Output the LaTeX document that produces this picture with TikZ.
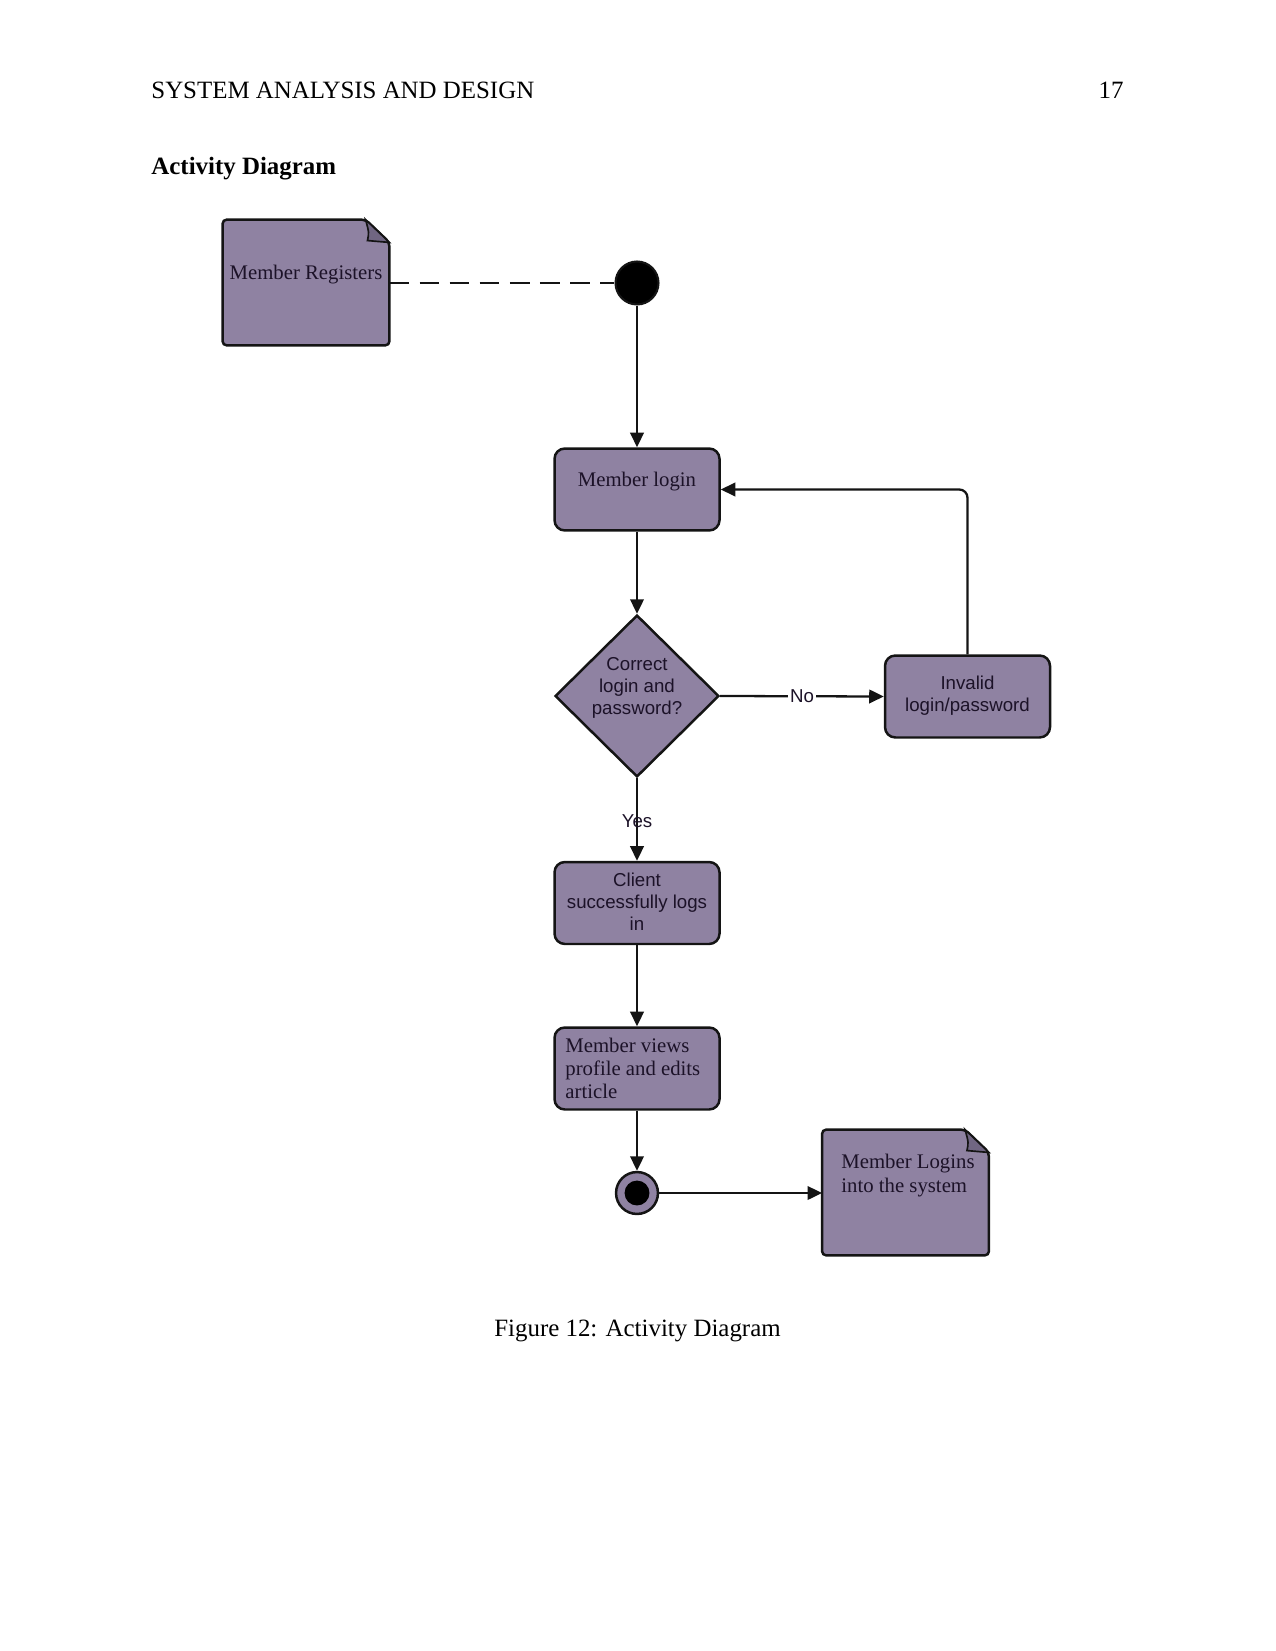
\documentclass[tikz,border=0pt]{standalone}
\usepackage{fontspec}
\setmainfont{Liberation Serif}
\newfontfamily\diasans{Liberation Sans}
\usetikzlibrary{arrows.meta,shapes.geometric}
\definecolor{actfill}{RGB}{143,130,162}
\definecolor{foldfill}{RGB}{112,102,130}
\definecolor{acttext}{RGB}{28,18,40}
\definecolor{lineclr}{RGB}{20,20,20}
\tikzset{
  actbox/.style={rectangle, rounded corners=5pt, draw=lineclr, line width=1.2pt, fill=actfill, minimum width=79.5pt, minimum height=39.5pt, inner sep=0pt},
  notebody/.style={draw=lineclr, line width=1.2pt, fill=actfill, rounded corners=2pt},
  foldpart/.style={draw=lineclr, line width=0.8pt, fill=foldfill},
  phantombox/.style={rectangle, minimum width=80pt, minimum height=60.2pt, inner sep=0pt},
  decision/.style={diamond, aspect=1, draw=lineclr, line width=1.2pt, fill=actfill, minimum width=79pt, minimum height=78pt, inner sep=0pt},
  sanstext/.style={font=\diasans\fontsize{9}{10.6}\selectfont, text=acttext, align=center, inner sep=0pt},
  seriftext/.style={font=\fontsize{10}{11.2}\selectfont, text=acttext, inner sep=0pt},
  flow/.style={draw=lineclr, line width=1.1pt, -{Triangle[length=7pt,width=6.5pt]}},
  pagetext/.style={font=\fontsize{12}{14}\selectfont, inner sep=0pt},
}
\begin{document}
\begin{tikzpicture}[x=0.4818pt, y=-0.4818pt]
\useasboundingbox (0,0) rectangle (1275,1651);
% page text
\node[pagetext, anchor=base west] (hdr) at (151,99) {SYSTEM ANALYSIS AND DESIGN};
\node[pagetext, anchor=base east] (pgno) at (1124,99) {17};
\node[pagetext, anchor=base west, font=\bfseries\fontsize{12}{14}\selectfont] (ttl) at (151,175) {Activity Diagram};
\node[pagetext, anchor=base] (cap) at (637.5,1336.5) {Figure 12: Activity Diagram};

% note: Member Registers
\node[phantombox] (reg) at (306,282.5) {};
\draw[notebody] (reg.north west) -- ([xshift=-11.5pt]reg.north east) -- ([yshift=-11pt]reg.north east) -- (reg.south east) -- (reg.south west) -- cycle;
\draw[foldpart] ([xshift=-11.5pt]reg.north east) .. controls ([xshift=-9.8pt,yshift=-6.2pt]reg.north east) .. ([xshift=-10.6pt,yshift=-10.1pt]reg.north east) -- ([yshift=-11pt]reg.north east) -- cycle;
\node[seriftext, anchor=base] (regtxt) at (306,280) {Member Registers};

% start
\node[circle, fill=black, draw=lineclr, line width=1pt, minimum size=20.7pt, inner sep=0pt] (start) at (637,283) {};

% Member login
\node[actbox] (login) at (637,489.5) {};
\node[seriftext] (logintxt) at (637,482) {Member login};

% decision
\node[decision] (dec) at (637,696) {};
\node[sanstext] (dectxt) at (637,688) {Correct\\login and\\password?};

% invalid
\node[actbox] (inv) at (967.5,696.5) {};
\node[sanstext] (invtxt) at (967.5,695.5) {Invalid\\login/password};

% client
\node[actbox] (client) at (637,903) {};
\node[sanstext] (clienttxt) at (637,901.5) {Client\\successfully logs\\in};

% member views
\node[actbox] (views) at (637,1068.5) {};
\node[seriftext, anchor=west, align=left] (viewstxt) at (565,1068.5) {Member views\\profile and edits\\article};

% final
\node[circle, fill=actfill, draw=lineclr, line width=1.2pt, minimum size=20.2pt, inner sep=0pt] (final) at (637,1193) {};
\node[circle, fill=black, minimum size=12pt, inner sep=0pt] (finalin) at (637,1193) {};

% note: Member Logins
\node[phantombox] (sys) at (905.5,1192.5) {};
\draw[notebody] (sys.north west) -- ([xshift=-11.5pt]sys.north east) -- ([yshift=-11pt]sys.north east) -- (sys.south east) -- (sys.south west) -- cycle;
\draw[foldpart] ([xshift=-11.5pt]sys.north east) .. controls ([xshift=-9.8pt,yshift=-6.2pt]sys.north east) .. ([xshift=-10.6pt,yshift=-10.1pt]sys.north east) -- ([yshift=-11pt]sys.north east) -- cycle;
\node[seriftext, anchor=north west, align=left] (systxt) at (841,1154) {Member Logins\\into the system};

% connectors
\draw[draw=lineclr, line width=1.3pt, dash pattern=on 9.5pt off 5pt] (reg.east |- start.west) -- (start.west);
\draw[flow] (start.south) -- (login.north);
\draw[flow] (login.south) -- (dec.north);
\draw[flow] (dec.east) -- node[fill=white, inner sep=1pt, font=\diasans\fontsize{9}{10}\selectfont, text=acttext] (nolbl) {No} (inv.west);
\draw[flow, rounded corners=4pt] (inv.north) |- (login.east);
\draw[flow] (dec.south) -- node[pos=0.52, inner sep=0pt, font=\diasans\fontsize{9}{10}\selectfont, text=acttext] (yeslbl) {Yes} (client.north);
\draw[flow] (client.south) -- (views.north);
\draw[flow] (views.south) -- (final.north);
\draw[flow] (final.east) -- (sys.west |- final.east);
\end{tikzpicture}
\end{document}
